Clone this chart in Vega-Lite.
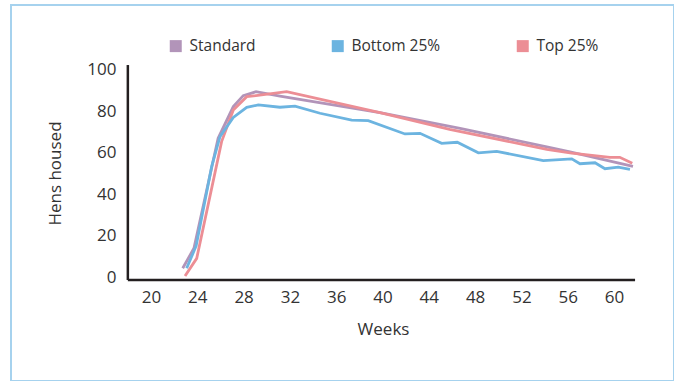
{
  "$schema": "https://vega.github.io/schema/vega-lite/v6.json",
  "width": 663,
  "height": 376,
  "autosize": {"type": "none"},
  "padding": {"left": 11, "top": 5, "right": 0, "bottom": 0},
  "background": "white",
  "config": {
    "view": {"stroke": "#a6d2ee", "strokeWidth": 2},
    "font": "Open Sans"
  },
  "datasets": {
    "series": [
      {"series": "Standard", "week": 22.74, "v": 4.2},
      {"series": "Standard", "week": 23.71, "v": 13.9},
      {"series": "Standard", "week": 25.8, "v": 67},
      {"series": "Standard", "week": 27.11, "v": 82.3},
      {"series": "Standard", "week": 27.97, "v": 87.6},
      {"series": "Standard", "week": 29.07, "v": 89.5},
      {"series": "Standard", "week": 31.14, "v": 87.4},
      {"series": "Standard", "week": 39.78, "v": 79.4},
      {"series": "Standard", "week": 46.7, "v": 71.8},
      {"series": "Standard", "week": 54.19, "v": 62.9},
      {"series": "Standard", "week": 56.2, "v": 60.5},
      {"series": "Standard", "week": 61.64, "v": 53.4},
      {"series": "Top 25%", "week": 22.94, "v": 0.5},
      {"series": "Top 25%", "week": 23.95, "v": 9.0},
      {"series": "Top 25%", "week": 26.1, "v": 65.4},
      {"series": "Top 25%", "week": 27.11, "v": 80.7},
      {"series": "Top 25%", "week": 28.27, "v": 87.1},
      {"series": "Top 25%", "week": 31.72, "v": 89.5},
      {"series": "Top 25%", "week": 39.78, "v": 79.4},
      {"series": "Top 25%", "week": 45.8, "v": 71.3},
      {"series": "Top 25%", "week": 54.2, "v": 61.7},
      {"series": "Top 25%", "week": 56.35, "v": 59.8},
      {"series": "Top 25%", "week": 59.65, "v": 57.8},
      {"series": "Top 25%", "week": 60.5, "v": 57.8},
      {"series": "Top 25%", "week": 61.58, "v": 54.9},
      {"series": "Bottom 25%", "week": 23.08, "v": 4.2},
      {"series": "Bottom 25%", "week": 23.9, "v": 15},
      {"series": "Bottom 25%", "week": 25.24, "v": 53.3},
      {"series": "Bottom 25%", "week": 25.96, "v": 67.8},
      {"series": "Bottom 25%", "week": 27.11, "v": 77.1},
      {"series": "Bottom 25%", "week": 28.27, "v": 82.0},
      {"series": "Bottom 25%", "week": 29.27, "v": 83.1},
      {"series": "Bottom 25%", "week": 31.14, "v": 82.0},
      {"series": "Bottom 25%", "week": 32.44, "v": 82.5},
      {"series": "Bottom 25%", "week": 34.6, "v": 79.1},
      {"series": "Bottom 25%", "week": 37.34, "v": 75.8},
      {"series": "Bottom 25%", "week": 38.77, "v": 75.5},
      {"series": "Bottom 25%", "week": 41.94, "v": 69.1},
      {"series": "Bottom 25%", "week": 43.24, "v": 69.4},
      {"series": "Bottom 25%", "week": 45.11, "v": 64.6},
      {"series": "Bottom 25%", "week": 46.46, "v": 65.1},
      {"series": "Bottom 25%", "week": 48.28, "v": 60.0},
      {"series": "Bottom 25%", "week": 49.87, "v": 60.7},
      {"series": "Bottom 25%", "week": 53.89, "v": 56.2},
      {"series": "Bottom 25%", "week": 56.35, "v": 57.1},
      {"series": "Bottom 25%", "week": 57.06, "v": 54.7},
      {"series": "Bottom 25%", "week": 58.36, "v": 55.2},
      {"series": "Bottom 25%", "week": 59.22, "v": 52.3},
      {"series": "Bottom 25%", "week": 60.37, "v": 53.1},
      {"series": "Bottom 25%", "week": 61.38, "v": 52.0}
    ],
    "axisLines": [
      {"week": 18, "week2": 61.82, "v": -1.45, "v2": -1.45},
      {"week": 18, "week2": 18, "v": -1.45, "v2": 102.4}
    ]
  },
  "encoding": {
    "x": {
      "field": "week",
      "type": "quantitative",
      "scale": {"domain": [7.905, 65.184], "nice": false, "zero": false},
      "axis": {
        "title": "Weeks",
        "values": [20, 24, 28, 32, 36, 40, 44, 48, 52, 56, 60],
        "offset": -101,
        "domain": false,
        "ticks": false,
        "grid": false,
        "labelPadding": 17,
        "labelBaseline": "middle",
        "labelFontSize": 17,
        "labelColor": "#333333",
        "labelFlush": false,
        "labelOverlap": false,
        "titleFontSize": 17,
        "titleFontWeight": "normal",
        "titleColor": "#333333",
        "titleX": 372,
        "titleY": 49,
        "titleBaseline": "middle",
        "titleAlign": "center"
      }
    },
    "y": {
      "field": "v",
      "type": "quantitative",
      "scale": {"domain": [-50.24, 131.4], "nice": false, "zero": false},
      "axis": {
        "title": "Hens housed",
        "values": [0, 20, 40, 60, 80, 100],
        "offset": -117,
        "domain": false,
        "ticks": false,
        "grid": false,
        "labelPadding": 12,
        "labelFontSize": 17,
        "labelColor": "#333333",
        "labelFlush": false,
        "labelOverlap": false,
        "titleFontSize": 17,
        "titleFontWeight": "normal",
        "titleColor": "#333333",
        "titleX": -73,
        "titleY": 168,
        "titleBaseline": "middle",
        "titleAlign": "center",
        "titleAngle": 270
      }
    }
  },
  "layer": [
    {
      "data": {"name": "axisLines"},
      "mark": {"type": "rule", "color": "#231f20", "strokeWidth": 2.5},
      "encoding": {
        "x2": {"field": "week2"},
        "y2": {"field": "v2"}
      }
    },
    {
      "data": {"name": "series"},
      "mark": {"type": "line", "strokeWidth": 2.8},
      "encoding": {
        "color": {
          "field": "series",
          "type": "nominal",
          "scale": {
            "domain": ["Standard", "Bottom 25%", "Top 25%"],
            "range": ["#b294b9", "#6cb4e0", "#ec8e95"]
          },
          "legend": {
            "orient": "none",
            "legendX": 157,
            "legendY": 33,
            "direction": "horizontal",
            "title": null,
            "symbolType": "square",
            "symbolSize": 144,
            "symbolStrokeWidth": 0,
            "labelFontSize": 15.5,
            "labelColor": "#333333",
            "labelOffset": 6,
            "columnPadding": 74,
            "padding": 0,
            "encode": {
              "symbols": {
                "update": {
                  "fill": {"scale": "color", "field": "value"},
                  "strokeWidth": {"value": 0}
                }
              }
            }
          }
        }
      }
    }
  ]
}
